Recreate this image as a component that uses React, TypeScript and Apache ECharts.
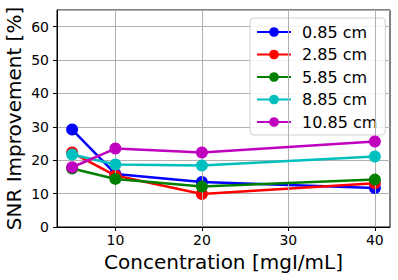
import React, { useEffect, useRef } from "react";
import * as echarts from "echarts";

const concentrations = [5, 10, 20, 40];
const seriesNames = ["0.85 cm", "2.85 cm", "5.85 cm", "8.85 cm", "10.85 cm"];
const colors = ["#0000ff", "#ff0000", "#008000", "#00bfbf", "#bf00bf"];
const snr085 = [29.2, 15.9, 13.5, 11.7];
const snr285 = [22.3, 15.4, 9.9, 13.1];
const snr585 = [17.5, 14.4, 12.1, 14.2];
const snr885 = [21.7, 18.7, 18.4, 21.1];
const snr1085 = [17.9, 23.5, 22.3, 25.6];
const xTicks = [10, 20, 30, 40];

const allValues = [snr085, snr285, snr585, snr885, snr1085];

export default function App() {
  const ref = useRef<HTMLDivElement>(null);
  useEffect(() => {
    if (!ref.current) return;
    const chart = echarts.init(ref.current, null, { renderer: "svg" });
    const font = "DejaVu Sans";
    const series: any[] = allValues.map((vals, i) => ({
      name: seriesNames[i],
      type: "line",
      data: concentrations.map((c, j) => [c, vals[j]]),
      symbol: "circle",
      symbolSize: 12,
      lineStyle: { width: 2.5, color: colors[i] },
      itemStyle: { color: colors[i] },
      z: 3 + i,
    }));
    series.push({
      name: "grid",
      type: "line",
      data: [],
      silent: true,
      z: 1,
      markLine: {
        silent: true,
        symbol: "none",
        label: { show: false },
        lineStyle: { color: "#b0b0b0", width: 1, type: "solid" },
        data: xTicks.map((v) => ({ xAxis: v })),
      },
    });
    chart.setOption({
      animation: false,
      textStyle: { fontFamily: font },
      grid: {
        left: 57,
        right: 8,
        top: 10,
        bottom: 53,
        outerBoundsMode: "none",
        containLabel: false,
        show: true,
        borderColor: "#000",
        borderWidth: 1,
        backgroundColor: "transparent",
      },
      legend: {
        data: seriesNames,
        orient: "vertical",
        left: 250,
        top: 18,
        itemWidth: 34,
        itemHeight: 12,
        itemGap: 6.5,
        padding: [6, 8, 5, 6],
        backgroundColor: "rgba(255,255,255,0.85)",
        borderColor: "#d0d0d0",
        borderWidth: 1,
        borderRadius: 4,
        textStyle: { fontSize: 16, lineHeight: 16, color: "#000", fontFamily: font, padding: [0, 0, 0, 6] },
      },
      xAxis: {
        type: "value",
        min: 3.25,
        max: 41.75,
        name: "Concentration [mgI/mL]",
        nameLocation: "middle",
        nameGap: 25,
        nameMoveOverlap: false,
        nameTextStyle: { fontSize: 20, color: "#000", fontFamily: font },
        axisLine: { show: true, onZero: false, lineStyle: { color: "#000" } },
        axisTick: { show: true, customValues: xTicks, length: 4, lineStyle: { color: "#000" } },
        axisLabel: { customValues: xTicks, fontSize: 14, color: "#000", margin: 6, fontFamily: font },
        splitLine: { show: false },
      },
      yAxis: {
        type: "value",
        min: 0,
        max: 65,
        interval: 10,
        name: "SNR Improvement [%]",
        nameLocation: "middle",
        nameGap: 32,
        nameMoveOverlap: false,
        nameTextStyle: { fontSize: 20, lineHeight: 22, color: "#000", fontFamily: font },
        axisLine: { show: true, lineStyle: { color: "#000" } },
        axisTick: { show: true, length: 4, lineStyle: { color: "#000" } },
        axisLabel: { fontSize: 14, color: "#000", margin: 8, showMaxLabel: false, fontFamily: font },
        splitLine: { show: true, lineStyle: { color: "#b0b0b0", width: 1 } },
      },
      series,
    });
    return () => chart.dispose();
  }, []);
  return (
    <div
      ref={ref}
      style={{ position: "absolute", left: 0, top: 0, width: 398, height: 280, background: "#fff" }}
    />
  );
}
